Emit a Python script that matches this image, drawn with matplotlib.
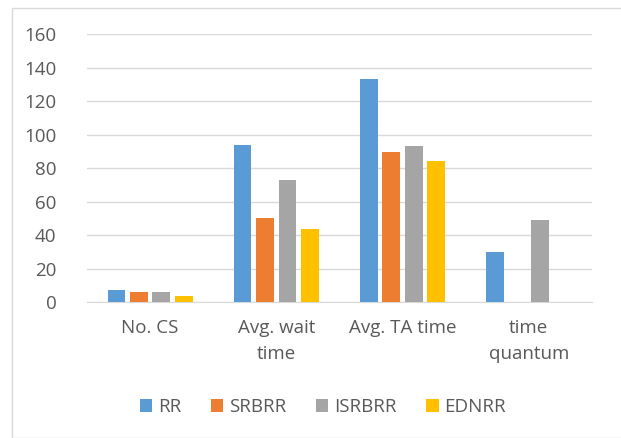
import numpy as np
import matplotlib
matplotlib.use("Agg")
import matplotlib.pyplot as plt
from matplotlib.patches import Rectangle

categories = ["No. CS", "Avg. wait\ntime", "Avg. TA time", "time\nquantum"]
series = ["RR", "SRBRR", "ISRBRR", "EDNRR"]
rr = [7, 94, 133, 30]
srbrr = [6, 50, 89.5, 0]
isrbrr = [6, 73, 93.5, 49]
ednrr = [4, 44, 84, 0]
colors = ["#5B9BD5", "#ED7D31", "#A5A5A5", "#FFC000"]

plt.rcParams["font.family"] = ["Open Sans", "DejaVu Sans"]

fig = plt.figure(figsize=(6.21, 4.38), dpi=100)
ax = fig.add_axes([0.14, 0.31, 0.813, 0.612])

# outer chart frame
fig.patches.append(Rectangle((12/621, 0), 1.2, 1 - 8/438, transform=fig.transFigure,
                             fill=False, edgecolor="#D9D9D9", linewidth=1))

x = np.arange(len(categories))
step = 0.178
width = 0.14
for i, (name, vals) in enumerate(zip(series, [rr, srbrr, isrbrr, ednrr])):
    ax.bar(x + (i - 1.5) * step, vals, width, color=colors[i], label=name, zorder=3)

ax.set_xlim(-0.5, 3.5)
ax.set_ylim(0, 160)
ax.set_yticks(range(0, 161, 20))
ax.yaxis.grid(True, color="#D9D9D9", linewidth=1, zorder=0)
ax.set_xticks(x)
ax.set_xticklabels(categories, linespacing=1.55)
ax.tick_params(axis="both", length=0, labelsize=13.5, labelcolor="#595959")
ax.tick_params(axis="x", pad=12)
ax.tick_params(axis="y", pad=22)
for s in ["top", "right", "left"]:
    ax.spines[s].set_visible(False)
ax.spines["bottom"].set_color("#D9D9D9")

leg = fig.legend(loc="center", bbox_to_anchor=(0.52, 0.07), ncol=4, frameon=False,
                 fontsize=13.5, handlelength=0.65, handleheight=0.65, handletextpad=0.3,
                 columnspacing=1.6)
for t in leg.get_texts():
    t.set_color("#595959")

fig.savefig("out.png", dpi=100)
